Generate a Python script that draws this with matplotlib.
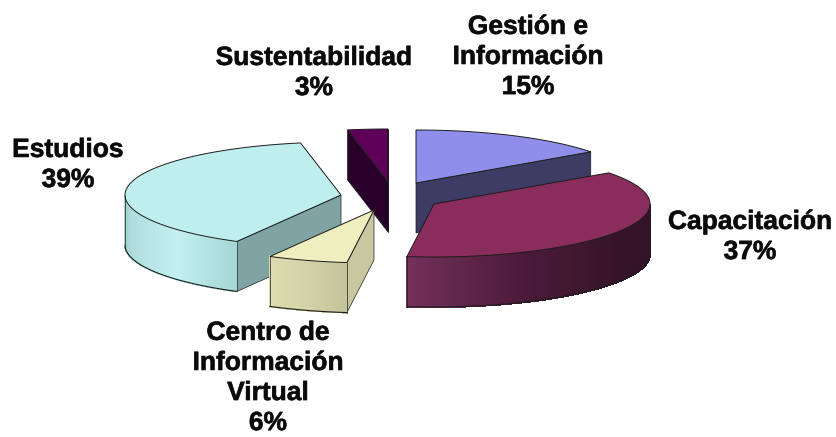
import matplotlib
matplotlib.use('Agg')
import matplotlib.pyplot as plt
import matplotlib.patheffects as pe
from matplotlib.colors import LinearSegmentedColormap
import numpy as np

# clockwise from 12 o'clock
categories = ['Gestión e\nInformación', 'Capacitación', 'Centro de\nInformación\nVirtual',
              'Estudios', 'Sustentabilidad']
shares = [15, 37, 6, 39, 3]

# layout in pixels
RX, RY, DEPTH = 216, 53, 50
centers = {'Gestión e\nInformación': (416, 183), 'Capacitación': (434, 204),
           'Centro de\nInformación\nVirtual': (374, 210), 'Estudios': (341, 195),
           'Sustentabilidad': (388, 182)}
label_pos = {'Gestión e\nInformación': (528, 57), 'Capacitación': (750, 237),
             'Centro de\nInformación\nVirtual': (268, 378), 'Estudios': (68, 165),
             'Sustentabilidad': (314, 73)}
top_colors = {'Gestión e\nInformación': '#8f8feb', 'Capacitación': '#8a2c5c',
              'Centro de\nInformación\nVirtual': '#eeeebe', 'Estudios': '#beeeee',
              'Sustentabilidad': '#5e0058'}
side_colors = {'Gestión e\nInformación': '#3c3c64', 'Capacitación': '#35142a',
               'Centro de\nInformación\nVirtual': '#c8c8a0', 'Estudios': '#80a4a4',
               'Sustentabilidad': '#28002a'}
rim_colors = {'Gestión e\nInformación': ['#3c3c64', '#3c3c64'],
              'Capacitación': ['#35142a', '#35142a', '#4a1a38', '#72305a'],
              'Centro de\nInformación\nVirtual': ['#c4c49c', '#d2d2a8', '#dcdcb0'],
              'Estudios': ['#a6d6d6', '#c2f0f0', '#b4e2e2', '#a4d0d0'],
              'Sustentabilidad': ['#28002a', '#28002a']}
draw_order = ['Gestión e\nInformación', 'Sustentabilidad', 'Estudios',
              'Centro de\nInformación\nVirtual', 'Capacitación']


def point(center, deg, drop=0):
    a = np.radians(deg)
    return center[0] + RX * np.sin(a), center[1] - RY * np.cos(a) + drop


def draw_slice(ax, name, start, end):
    c = centers[name]
    angles = np.linspace(start, end, 120)
    top = [c] + [point(c, d) for d in angles]
    edge = '#1c1c1c'

    # radial wall going down from the apex, only when it faces the viewer
    for d in (start, end):
        x0, y0 = point(c, d)
        if (d == end and d % 360 < 180) or (d == start and d % 360 > 180) or name == 'Sustentabilidad' and d == start:
            wall = [c, (x0, y0), (x0, y0 + DEPTH), (c[0], c[1] + DEPTH)]
            ax.fill(*zip(*wall), fc=side_colors[name], ec=edge, lw=0.5)

    # outer rim, split in strips for the shading
    cmap = LinearSegmentedColormap.from_list(name, rim_colors[name])
    front = angles[(angles >= 90) & (angles <= 270)]
    for i in range(len(front) - 1):
        p0, p1 = point(c, front[i]), point(c, front[i + 1])
        strip = [p0, p1, (p1[0], p1[1] + DEPTH), (p0[0], p0[1] + DEPTH)]
        col = cmap(i / max(len(front) - 2, 1))
        ax.fill(*zip(*strip), fc=col, ec=col, lw=0.8, antialiased=False)
    if len(front) > 1:
        low = [point(c, d, DEPTH) for d in front]
        ax.plot(*zip(*low), color=edge, lw=0.8)
        for d in (front[0], front[-1]):
            x0, y0 = point(c, d)
            ax.plot([x0, x0], [y0, y0 + DEPTH], color=edge, lw=0.5)

    ax.fill(*zip(*top), fc=top_colors[name], ec=edge, lw=0.7)


def main():
    fig = plt.figure(figsize=(8.36, 4.37), dpi=100)
    ax = fig.add_axes([0, 0, 1, 1])
    ax.set_xlim(0, 836)
    ax.set_ylim(437, 0)
    ax.axis('off')

    bounds = np.cumsum([0] + shares) * 3.6
    spans = {n: (bounds[i], bounds[i + 1]) for i, n in enumerate(categories)}
    for name in draw_order:
        draw_slice(ax, name, *spans[name])

    for name, share in zip(categories, shares):
        x, y = label_pos[name]
        t = ax.text(x, y, f'{name}\n{share}%', ha='center', va='center', fontsize=19,
                    fontweight='bold', family='Liberation Sans', linespacing=1.32, color='#0a0a0a')
        t.set_path_effects([pe.withStroke(linewidth=0.5, foreground='#333333')])

    fig.savefig('out.png', dpi=100)


if __name__ == "__main__":
    main()
